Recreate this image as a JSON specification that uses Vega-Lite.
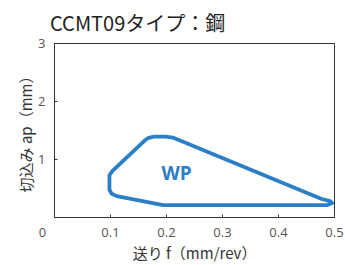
{
  "$schema": "https://vega.github.io/schema/vega-lite/v6.json",
  "autosize": "none",
  "width": 280,
  "height": 174,
  "padding": {"left": 54, "top": 43, "right": 11, "bottom": 48},
  "background": "white",
  "title": {
    "text": "CCMT09タイプ：鋼",
    "anchor": "start",
    "frame": "group",
    "font": "Noto Sans CJK JP",
    "fontSize": 20,
    "fontWeight": "normal",
    "color": "#222222",
    "baseline": "bottom",
    "offset": -18,
    "dx": -4
  },
  "config": {
    "view": {"stroke": "#333333", "strokeWidth": 1},
    "axis": {
      "grid": false,
      "domainColor": "#333333",
      "tickColor": "#333333",
      "tickSize": -3,
      "labelFont": "Open Sans",
      "labelFontSize": 13,
      "labelColor": "#555555",
      "titleFont": "Noto Sans CJK SC",
      "titleFontSize": 15,
      "titleFontWeight": "normal",
      "titleColor": "#333333"
    }
  },
  "datasets": {
    "region": [
      {"i": 1, "f": 0.178, "ap": 1.385},
      {"i": 2, "f": 0.2, "ap": 1.385},
      {"i": 3, "f": 0.212, "ap": 1.37},
      {"i": 4, "f": 0.224, "ap": 1.325},
      {"i": 5, "f": 0.478, "ap": 0.31},
      {"i": 6, "f": 0.493, "ap": 0.275},
      {"i": 7, "f": 0.497, "ap": 0.24},
      {"i": 8, "f": 0.488, "ap": 0.205},
      {"i": 9, "f": 0.195, "ap": 0.205},
      {"i": 10, "f": 0.112, "ap": 0.36},
      {"i": 11, "f": 0.103, "ap": 0.4},
      {"i": 12, "f": 0.099, "ap": 0.47},
      {"i": 13, "f": 0.099, "ap": 0.72},
      {"i": 14, "f": 0.104, "ap": 0.79},
      {"i": 15, "f": 0.16, "ap": 1.3},
      {"i": 16, "f": 0.168, "ap": 1.36},
      {"i": 17, "f": 0.178, "ap": 1.385}
    ],
    "label": [{"f": 0.219, "ap": 0.74, "name": "WP"}]
  },
  "layer": [
    {
      "data": {"name": "region"},
      "mark": {"type": "line", "color": "#2a7fc7", "strokeWidth": 3.8, "strokeJoin": "round", "interpolate": "linear"},
      "encoding": {
        "x": {
          "field": "f", "type": "quantitative",
          "scale": {"domain": [0, 0.5], "nice": false},
          "axis": {
            "title": "送り f（mm/rev）",
            "values": [0, 0.1, 0.2, 0.3, 0.4, 0.5],
            "format": ".1~f",
            "labelFlush": false,
            "labelPadding": 12,
            "labelOffset": {"condition": {"test": "datum.value === 0", "value": -12}, "value": 0},
            "titlePadding": 7
          }
        },
        "y": {
          "field": "ap", "type": "quantitative",
          "scale": {"domain": [0, 3], "nice": false},
          "axis": {
            "title": "切込み ap（mm）",
            "values": [0, 1, 2, 3],
            "format": "d",
            "labelExpr": "datum.value === 0 ? '' : datum.label",
            "labelPadding": 12,
            "titlePadding": 3
          }
        },
        "order": {"field": "i", "type": "quantitative"}
      }
    },
    {
      "data": {"name": "label"},
      "mark": {"type": "text", "color": "#2a7fc7", "font": "Open Sans", "fontSize": 19, "fontWeight": "bold"},
      "encoding": {
        "x": {"field": "f", "type": "quantitative"},
        "y": {"field": "ap", "type": "quantitative"},
        "text": {"field": "name"}
      }
    }
  ]
}
